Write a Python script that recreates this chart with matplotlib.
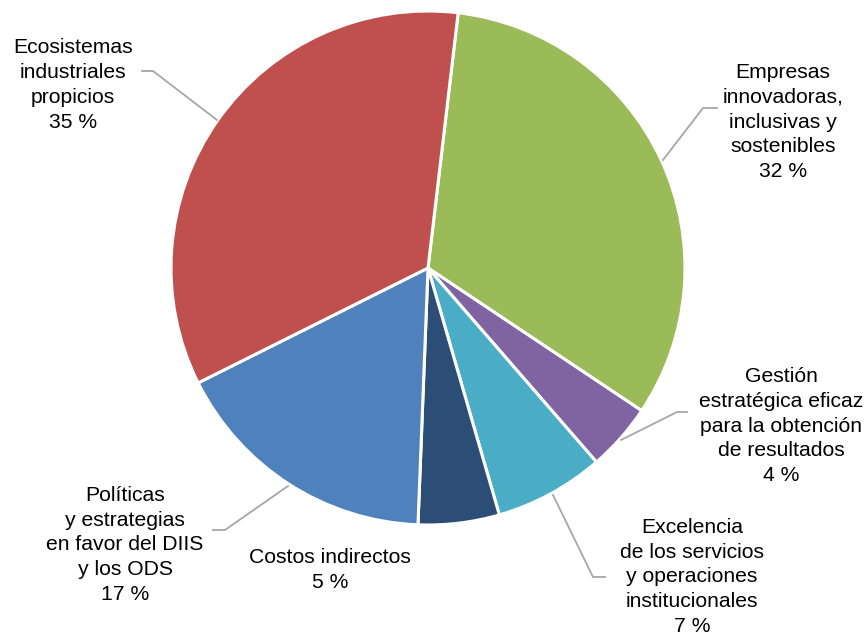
import matplotlib.pyplot as plt

# datos (participación de cada resultado, en %)
labels = ['Empresas\ninnovadoras,\ninclusivas y\nsostenibles',
          'Gestión\nestratégica eficaz\npara la obtención\nde resultados',
          'Excelencia\nde los servicios\ny operaciones\ninstitucionales',
          'Costos indirectos',
          'Políticas\ny estrategias\nen favor del DIIS\ny los ODS',
          'Ecosistemas\nindustriales\npropicios']
shares = [32.5, 4.25, 6.9, 5.1, 17.0, 34.25]
pct_labels = [32, 4, 7, 5, 17, 35]
colors = ['#9BBB59', '#8064A2', '#4BACC6', '#2C4D75', '#4F81BD', '#C0504D']

# posiciones de las etiquetas (px, origen arriba a la izquierda)
label_pos = [(783, 122), (781, 426), (692, 577), (330, 570), (125, 545), (73, 85)]
leaders = [
    [(717, 108), (703, 108), (663, 160)],
    [(687, 412), (677, 412), (621, 440)],
    [(605, 577), (593, 577), (553, 495)],
    None,
    [(213, 530), (225, 530), (288, 486)],
    [(142, 71), (153, 71), (217, 120)],
]

W, H = 864, 635
plt.rcParams['font.family'] = ['Liberation Sans', 'DejaVu Sans']
fig = plt.figure(figsize=(W / 100, H / 100), dpi=100)
ax = fig.add_axes([0, 0, 1, 1])

ax.pie(shares, colors=colors, startangle=83.26, counterclock=False,
       center=(428, H - 268), radius=257, frame=True,
       wedgeprops=dict(edgecolor='white', linewidth=2.2))
ax.set_xlim(0, W)
ax.set_ylim(0, H)
ax.axis('off')

for lab, pct, (x, y), ld in zip(labels, pct_labels, label_pos, leaders):
    ax.text(x, H - y, f'{lab}\n{pct} %', ha='center', va='center',
            fontsize=15.2, linespacing=1.39, color='black')
    if ld:
        ax.plot([p[0] for p in ld], [H - p[1] for p in ld],
                color='#A6A6A6', lw=1.3)

fig.savefig('out.png', dpi=100)
